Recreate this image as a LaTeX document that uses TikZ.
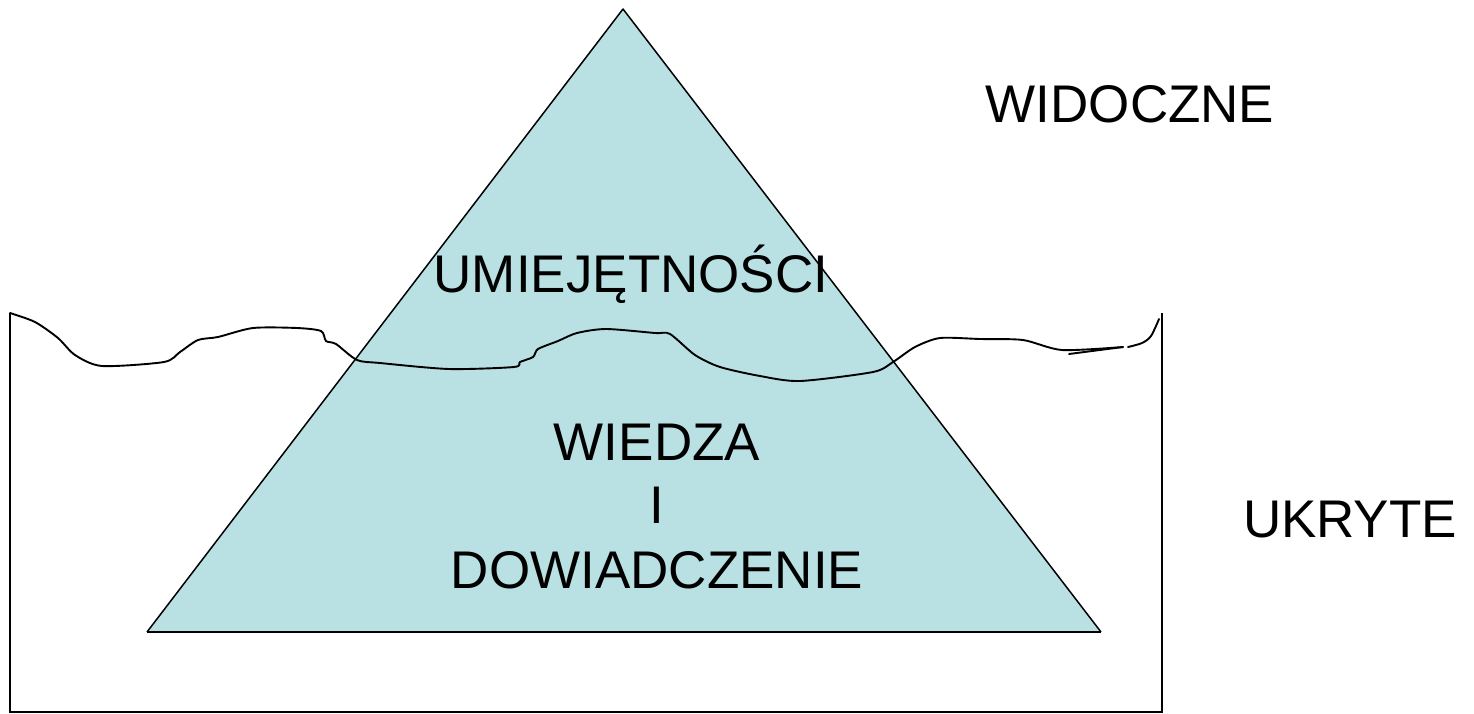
\documentclass[tikz,border=0pt]{standalone}
\usepackage{fontspec}
\setmainfont{Liberation Sans}
\definecolor{ice}{RGB}{185,224,227}
\begin{document}
\begin{tikzpicture}[x=1pt,y=-1pt,
  lbl/.style={font=\fontsize{53}{64}\selectfont, inner sep=0pt, anchor=base},
  edge/.style={line width=1.5pt, line join=round},
  wave/.style={line width=1.9pt, line cap=round, line join=round}]
\useasboundingbox (0,0) rectangle (1474,713);
% iceberg triangle
\coordinate (apex) at (623,9);
\coordinate (bl) at (147,632);
\coordinate (br) at (1101,632);
\fill[ice] (apex) -- (br) -- (bl) -- cycle;
\draw[edge] (bl) -- (apex) -- (br);
\draw[line width=2.4pt] (bl) -- (br);
% water box
\coordinate (tl) at (10,313);
\coordinate (tr) at (1162,313);
\coordinate (bbl) at (10,712);
\coordinate (bbr) at (1162,712);
\draw[line width=1.8pt] (tl) -- (bbl) -- (bbr) -- (tr);
% water surface
\draw[wave] plot[smooth, tension=0.45] coordinates {
  (10,313) (35,322) (58,338) (75,355) (102,366) (164,362) (180,352) (198,340) (218,337)
  (253,328) (297,328) (321,331) (326,341) (336,344) (357,360) (380,363) (449,369)
  (514,367) (520,362) (533,357) (538,349) (558,341) (577,333) (606,329) (655,333)
  (670,334) (695,355) (720,367) (760,376) (800,381) (873,372) (893,362) (915,347)
  (940,338) (980,339) (1023,340) (1062,350) (1123,347)};
\draw[wave] (1069,354) -- (1123,347);
\draw[wave] plot[smooth, tension=0.5] coordinates {(1128,347) (1142,343) (1151,336) (1159,319)};
% labels
\node[lbl] (umiej) at (631,292) {UMIEJĘTNOŚCI};
\node[lbl] (wiedza) at (657,460) {WIEDZA};
\node[lbl] (i) at (657,523) {I};
\node[lbl] (dosw) at (657,588) {DOWIADCZENIE};
\node[lbl] (widoczne) at (1130,122) {WIDOCZNE};
\node[lbl] (ukryte) at (1350,537) {UKRYTE};
\end{tikzpicture}
\end{document}
